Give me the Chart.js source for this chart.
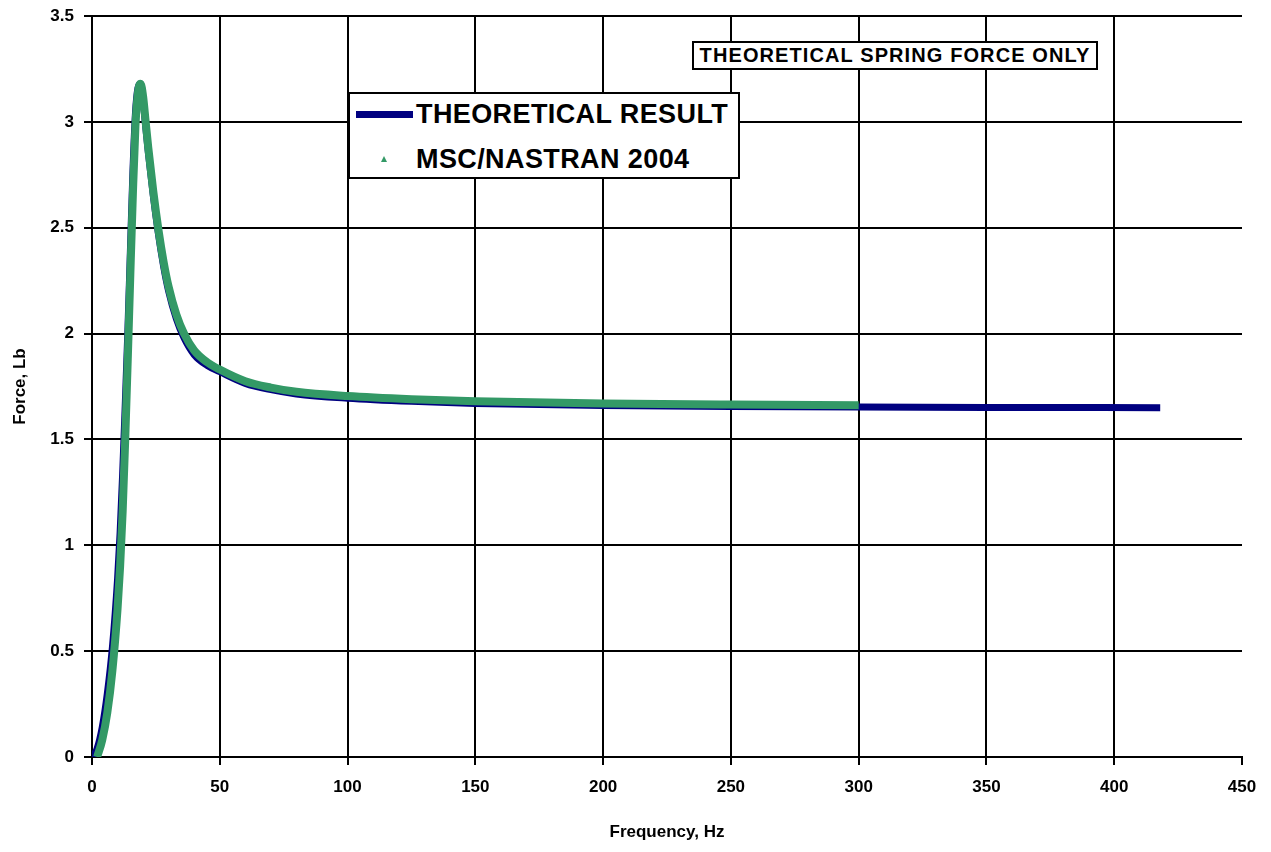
<!DOCTYPE html>
<html>
<head>
<meta charset="utf-8">
<script src="https://cdn.jsdelivr.net/npm/chart.js@4/dist/chart.umd.min.js"></script>
<style>
    body { margin: 0; background: #fff; }
    #wrap { position: relative; width: 1271px; height: 852px; }
    .box {
        position: absolute;
        background: #fff;
        border: 2px solid #000;
        box-sizing: border-box;
        font-family: "Liberation Sans", Arial, sans-serif;
        font-weight: bold;
        color: #000;
    }
    #note {
        left: 692px; top: 41px; width: 406px; height: 29px;
        font-size: 20px; line-height: 25px; text-align: center;
        letter-spacing: 1.1px; white-space: nowrap;
    }
    #legend { left: 348px; top: 92px; width: 392px; height: 87px; font-size: 27px; }
    .row { position: absolute; left: 0; height: 30px; line-height: 30px; }
    .row span { position: absolute; left: 66px; white-space: nowrap; letter-spacing: 0.4px; }
    .swatch { position: absolute; left: 6px; top: 12px; width: 57px; height: 7px; background: #000080; }
    .tri {
        position: absolute; left: 31px; top: 12px; width: 0; height: 0;
        border-left: 3px solid transparent; border-right: 3px solid transparent;
        border-bottom: 6px solid #339966;
    }
</style>
</head>
<body>
<div id="wrap">
    <canvas id="chart" width="1271" height="852"></canvas>
    <div class="box" id="note">THEORETICAL SPRING FORCE ONLY</div>
    <div class="box" id="legend">
        <div class="row" style="top: 5px;"><div class="swatch"></div><span>THEORETICAL RESULT</span></div>
        <div class="row" style="top: 50px;"><div class="tri"></div><span>MSC/NASTRAN 2004</span></div>
    </div>
</div>
<script>
const xTicks = [0, 50, 100, 150, 200, 250, 300, 350, 400, 450];
const yTicks = [0, 0.5, 1, 1.5, 2, 2.5, 3, 3.5];
const yLabels = ['0', '0.5', '1', '1.5', '2', '2.5', '3', '3.5'];

const freqTheory = [0, 2, 4, 6, 8, 10, 11, 12, 13, 14, 15, 16, 17, 18, 19, 20, 21, 22, 24, 26, 28, 30, 33, 36, 40, 45, 50, 60, 70, 80, 100, 125, 150, 200, 250, 300, 350, 418];
const forceTheory = [0, 0.04, 0.14, 0.3, 0.52, 0.84, 1.06, 1.34, 1.66, 2.0, 2.38, 2.76, 3.04, 3.16, 3.18, 3.1, 2.98, 2.86, 2.65, 2.47, 2.32, 2.2, 2.07, 1.98, 1.9, 1.85, 1.82, 1.765, 1.735, 1.715, 1.695, 1.68, 1.67, 1.66, 1.656, 1.653, 1.651, 1.65];

const freqNastran = [2, 4, 6, 8, 10, 11, 12, 13, 14, 15, 16, 17, 18, 19, 20, 21, 22, 24, 26, 28, 30, 33, 36, 40, 45, 50, 60, 70, 80, 100, 125, 150, 200, 250, 300];
const forceNastran = [0, 0.08, 0.21, 0.41, 0.7, 0.9, 1.16, 1.5, 1.88, 2.28, 2.66, 2.98, 3.14, 3.18, 3.12, 3.0, 2.88, 2.67, 2.49, 2.34, 2.22, 2.09, 2.0, 1.92, 1.865, 1.83, 1.775, 1.745, 1.725, 1.705, 1.69, 1.68, 1.67, 1.665, 1.662];

const toPoints = (xs, ys) => xs.map((x, i) => ({ x: x, y: ys[i] }));

const tickFont = { family: '"Liberation Sans", Arial, sans-serif', size: 17, weight: 'bold' };

new Chart(document.getElementById('chart'), {
    type: 'line',
    data: {
        datasets: [
            {
                label: 'MSC/NASTRAN 2004',
                data: toPoints(freqNastran, forceNastran),
                borderColor: '#339966',
                borderWidth: 8,
                pointRadius: 0,
                cubicInterpolationMode: 'monotone',
                order: 0
            },
            {
                label: 'THEORETICAL RESULT',
                data: toPoints(freqTheory, forceTheory),
                borderColor: '#000080',
                borderWidth: 7,
                pointRadius: 0,
                cubicInterpolationMode: 'monotone',
                order: 1
            }
        ]
    },
    options: {
        responsive: false,
        animation: false,
        layout: { padding: { top: 16, right: 29, left: 0, bottom: 0 } },
        plugins: { legend: { display: false }, tooltip: { enabled: false } },
        scales: {
            x: {
                type: 'linear',
                min: 0,
                max: 450,
                afterBuildTicks: axis => { axis.ticks = xTicks.map(v => ({ value: v })); },
                afterFit: axis => { axis.height = 95; },
                grid: {
                    color: ctx => (ctx.tick && ctx.tick.value === 450) ? 'rgba(0,0,0,0)' : '#000',
                    tickColor: '#000',
                    lineWidth: 2,
                    tickLength: 8
                },
                border: { color: '#000', width: 2 },
                ticks: { color: '#000', font: tickFont, padding: 12, maxRotation: 0 },
                title: {
                    display: true,
                    text: 'Frequency, Hz',
                    color: '#000',
                    font: tickFont,
                    padding: { top: 0, bottom: 9 }
                }
            },
            y: {
                type: 'linear',
                min: 0,
                max: 3.5,
                afterBuildTicks: axis => { axis.ticks = yTicks.map(v => ({ value: v })); },
                afterFit: axis => {
                    axis.width = 92;
                    axis.paddingTop = 0;
                    axis.paddingBottom = 0;
                },
                grid: { color: '#000', lineWidth: 2, tickLength: 8 },
                border: { color: '#000', width: 2 },
                ticks: {
                    color: '#000',
                    font: tickFont,
                    padding: 10,
                    callback: (value, index) => yLabels[index]
                },
                title: {
                    display: true,
                    text: 'Force, Lb',
                    color: '#000',
                    font: tickFont,
                    padding: { top: 10, bottom: 0 }
                }
            }
        }
    }
});
</script>
</body>
</html>
